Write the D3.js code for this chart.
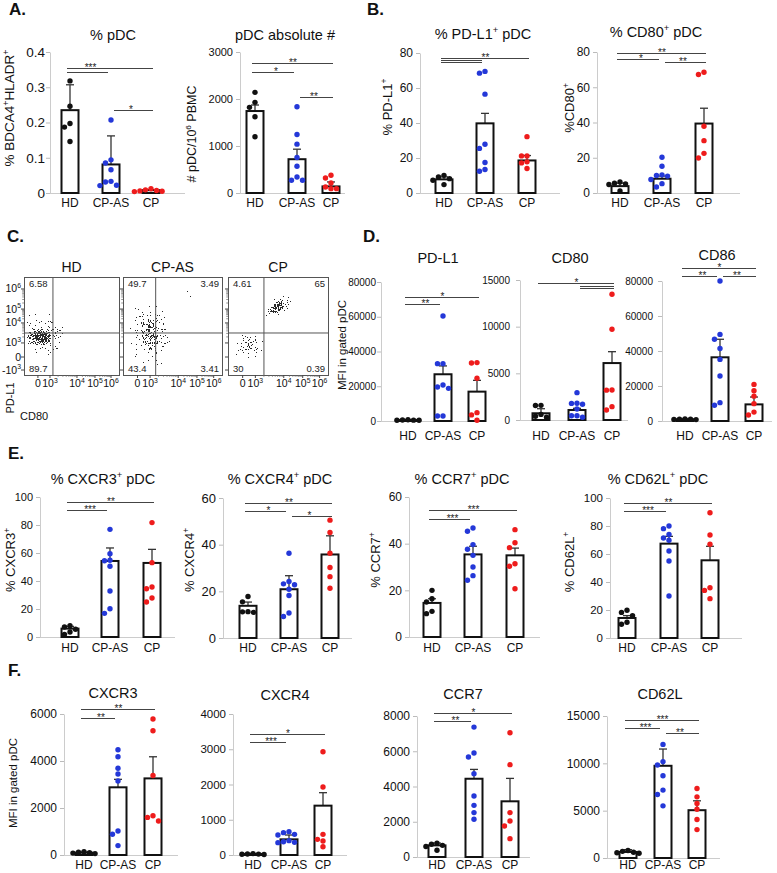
<!DOCTYPE html>
<html><head><meta charset="utf-8">
<script src="https://cdn.jsdelivr.net/npm/d3@7"></script>
<style>body{margin:0;background:#fff}</style>
</head><body><div id="chart"></div>
<script>
// ---------------- DATA ----------------
const groups = ["HD", "CP-AS", "CP"];
const groupColors = ["#111111", "#2438d8", "#ee1c1c"];

// A. % pDC
const pctPdcPts = [[0.318,0.246,0.197,0.187,0.146],[0.207,0.094,0.085,0.066,0.033,0.031,0.022,0.021],[0.012,0.009,0.007,0.006,0.005,0.004]];
const pctPdcMean = [0.235,0.081,0.008];
const pctPdcErr = [0.307,0.162,0.009];
const pctPdcSig = [[0,2,0.355,"***",0,1],[0,1,0.343,""],[1,2,0.236,"*"]];
const pctPdcTicks = [0,0.1,0.2,0.3,0.4];

// A. pDC absolute #
const absPdcPts = [[2142,1929,1822,1623,1196],[1836,1245,1039,754,569,342,270,270],[377,320,213,128,93,93]];
const absPdcMean = [1744,719,140];
const absPdcErr = [1872,932,235];
const absPdcSig = [[0,2,2766,"**"],[0,1,2574,"*"],[1,2,2043,"**"]];
const absPdcTicks = [0,1000,2000,3000];

// B. % PD-L1+ pDC
const pdl1PctPts = [[10.1,9.2,8.2,7.3,4.8],[69.5,68.5,56.5,27.9,25.5,17.4,13.4,12.4],[32.2,21.2,21.2,17.8,17.2,14.0]];
const pdl1PctMean = [7.8,39.8,18.6];
const pdl1PctErr = [9.2,45.5,21.4];
const pdl1PctSig = [[0,2,77.1,"**"],[0,1,76.0,""],[0,1,74.6,""]];
// B. % CD80+ pDC
const cd80PctPts = [[6.2,5.6,5.2,4.8,1.1],[20.3,15.2,10.3,9.9,9.6,7.7,5.3,3.4],[68.5,67.2,37.9,29.7,22.5,19.9]];
const cd80PctMean = [3.9,8.1,39.4];
const cd80PctErr = [5.6,9.6,48.1];
const cd80PctSig = [[0,2,79.4,"**"],[0,1,76.0,"*"],[1,2,74.3,"**"]];
const pct80Ticks = [0,20,40,60,80];

// D. MFI PD-L1 / CD80 / CD86
const pdl1MfiPts = [[700,600,500,450,400],[60400,33000,33000,20700,19600,18800,2900,2900],[33400,33600,24600,4800,3500,400]];
const pdl1MfiMean = [550,26900,16900];
const pdl1MfiErr = [650,31700,23400];
const pdl1MfiSig = [[0,2,71530,"*"],[0,1,67330,"**"]];
const cd80MfiPts = [[1570,1550,600,400,300],[2930,1790,1780,1680,1180,460,450,300],[13470,9720,3210,3200,1430,1070]];
const cd80MfiMean = [720,1070,6100];
const cd80MfiErr = [1210,1250,7320];
const cd80MfiSig = [[0,2,14670,"*"],[1,2,14350,""],[1,2,14100,""]];
const cd86MfiPts = [[1200,1100,1000,900,800],[80000,49500,46700,41400,35200,25700,10500,9000],[20900,17300,14200,9900,5100,3400]];
const cd86MfiMean = [1000,36400,9500];
const cd86MfiErr = [1100,46700,13700];
const cd86MfiSig = [[0,2,87430,"*"],[0,1,82860,"**"],[1,2,82860,"**"]];
const mfi80kTicks = [0,20000,40000,60000,80000];
const mfi15kTicks = [0,5000,10000,15000];

// E. % positive
const cxcr3PctPts = [[8.1,7.1,5.5,3.6,1.9],[76.9,59.5,54.8,54.5,50.5,32.9,20.2,16.9],[81.7,53.1,35.7,34.5,27.9,25.0]];
const cxcr3PctMean = [6.0,54.3,52.9];
const cxcr3PctErr = [7.6,63.6,62.6];
const cxcr3PctSig = [[0,2,96.4,"**"],[0,1,90.7,"***"]];
const cxcr4PctPts = [[17.8,15.5,11.3,11.0,11.2],[36.3,24.2,23.2,22.8,20.9,18.2,10.7,9.2],[50.5,45.2,36.3,30.2,26.3,21.3]];
const cxcr4PctMean = [13.8,20.9,35.8];
const cxcr4PctErr = [15.4,26.7,43.8];
const cxcr4PctSig = [[0,2,57.9,"**"],[0,1,54.4,"*"],[1,2,52.3,"*"]];
const ccr7PctPts = [[20.0,16.4,15.0,11.0,10.0],[46.7,45.3,39.6,37.6,35.0,30.0,26.3,24.3],[46.0,40.4,38.3,31.4,30.3,20.7]];
const ccr7PctMean = [14.6,35.4,35.0];
const ccr7PctErr = [16.4,38.9,38.1];
const ccr7PctSig = [[0,2,54.4,"***"],[0,1,50.6,"***"]];
const cd62lPctPts = [[19.8,18.3,16.0,11.2,9.8],[80.0,78.1,74.0,71.4,69.8,62.1,55.0,30.0],[89.5,73.6,67.0,35.9,34.0,28.1]];
const cd62lPctMean = [14.3,67.4,55.5];
const cd62lPctErr = [16.0,72.6,65.5];
const cd62lPctSig = [[0,2,96.4,"**"],[0,1,90.7,"***"]];
const pct100Ticks = [0,20,40,60,80,100];
const pct60Ticks = [0,20,40,60];

// F. MFI chemokine receptors
const cxcr3MfiPts = [[140,120,100,80,60],[4480,4180,3690,3450,3150,1020,880,400],[5790,5290,3380,1670,1600,1450]];
const cxcr3MfiMean = [100,2880,3260];
const cxcr3MfiErr = [120,3220,4180];
const cxcr3MfiSig = [[0,2,6213,"**"],[0,1,5830,"**"]];
const cxcr4MfiPts = [[40,30,25,20,15],[662,634,586,567,407,378,359,350],[2931,1929,586,444,397,236]];
const cxcr4MfiMean = [30,444,1400];
const cxcr4MfiErr = [35,567,1768];
const cxcr4MfiSig = [[0,2,3433,"*"],[0,1,3206,"***"]];
const ccr7MfiPts = [[790,720,660,600,380],[7370,5900,5670,4730,3460,2930,2520,2140],[7050,5240,2520,2040,1760,1040]];
const ccr7MfiMean = [660,4440,3160];
const ccr7MfiErr = [790,4970,4460];
const ccr7MfiSig = [[0,2,8170,"*"],[0,1,7716,"**"]];
const cd62lMfiPts = [[800,700,600,550,500],[12000,10170,9820,8690,7170,6710,5510],[7340,6460,5750,5150,4060,3000]];
const cd62lMfiMean = [640,9740,5050];
const cd62lMfiErr = [880,11510,6040];
const cd62lMfiSig = [[0,2,14577,"***"],[0,1,13732,"***"],[1,2,13204,"**"]];
const mfi6kTicks = [0,2000,4000,6000];
const mfi4kTicks = [0,1000,2000,3000,4000];
const mfi8kTicks = [0,2000,4000,6000,8000];

// C. flow plots
const flowPanels = ["HD","CP-AS","CP"];
const flowQuadTL = ["6.58","49.7","4.61"];
const flowQuadTR = ["","3.49","65"];
const flowQuadBL = ["89.7","43.4","30"];
const flowQuadBR = ["","3.41","0.39"];
const flowGateX = [312,338,368];
const flowGateY = [439,439,439];
const flowXTickLabels = ["0","10^{3}","10^{4}","10^{5}","10^{6}"];
const flowXTickChan = [150,280,571,765,938];
const flowYTickLabels = ["-10^{3}","0","10^{3}","10^{4}","10^{5}","10^{6}"];
const flowYTickChan = [52,188,335,544,689,899];
// event clouds (panel, centre x/y, radius x/y in channel units, tilt, peak density)
const flowCloudPanel = [0,0,1,1,1,2,2,2];
const flowCloudX = [172,226,279,290,590,500,600,205];
const flowCloudY = [397,418,450,440,790,705,780,313];
const flowCloudRX = [140,300,160,260,200,150,260,170];
const flowCloudRY = [90,260,250,360,90,85,170,140];
const flowCloudTilt = [0,0,-10,0,-30,-25,-30,0];
const flowCloudDensity = [0.95,0.52,0.72,0.5,0.5,0.85,0.55,0.56];

// ---------------- DRAWING ----------------
const FONT = "'Liberation Sans', Arial, Helvetica, sans-serif";
const svg = d3.select("#chart").append("svg").attr("width",777).attr("height",873)
  .style("font-family",FONT).style("display","block");
svg.append("rect").attr("width",777).attr("height",873).attr("fill","#fff");
const defs = svg.append("defs");

function rich(t, str, fs) {
  const parts = str.split(/(\^\{[^}]*\})/).filter(s => s.length);
  let up = false;
  parts.forEach(p => {
    const m = p.match(/^\^\{([^}]*)\}$/);
    if (m) {
      t.append("tspan").attr("dy", -fs*0.4).attr("font-size", fs*0.65).text(m[1]);
      up = true;
    } else {
      const s = t.append("tspan").text(p);
      if (up) { s.attr("dy", fs*0.4); up = false; }
    }
  });
}

function swarm(vals, yS, cx, r) {
  const items = vals.map(v => ({v, py: yS(v)})).sort((a,b) => a.py - b.py);
  const placed = [];
  const offs = [0,-1,1,-2,2,-3,3,-4,4];
  items.forEach(o => {
    for (const k of offs) {
      const px = cx + k*r*2.05;
      if (placed.every(p => Math.hypot(p.px-px, p.py-o.py) >= r*2.0)) { o.px = px; break; }
    }
    if (o.px === undefined) o.px = cx;
    placed.push(o);
  });
  return placed;
}

function barChart(c) {
  const g = svg.append("g");
  const y = d3.scaleLinear().domain([0, c.max]).range([c.y0, c.y1]);
  const x = d3.scaleOrdinal().domain(groups).range(c.cx);
  const ag = g.append("g").attr("transform", `translate(${c.ax},0)`)
    .call(d3.axisLeft(y).tickValues(c.ticks).tickFormat(d => String(d)).tickSize(4).tickSizeOuter(0).tickPadding(c.tp || 3));
  ag.attr("font-family", FONT).attr("font-size", c.tfs || 12);
  ag.select(".domain").attr("stroke", "#cccccc");
  ag.selectAll(".tick line").attr("stroke", "#bbbbbb");
  ag.selectAll(".tick text").attr("fill", "#111");
  g.append("line").attr("x1", c.ax).attr("x2", c.x1).attr("y1", c.y0 + 0.5).attr("y2", c.y0 + 0.5).attr("stroke", "#cccccc");

  groups.forEach(grp => g.append("text").attr("x", x(grp)).attr("y", c.xly).attr("text-anchor","middle")
    .attr("font-size", 12).attr("fill","#111").text(grp));
  const tt = g.append("text").attr("x", c.tx).attr("y", c.ty).attr("text-anchor","middle").attr("font-size",14.5).attr("fill","#111");
  rich(tt, c.title, 14.5);
  if (c.ylab) {
    const yl = g.append("text").attr("transform", `translate(${c.lx},${c.ly}) rotate(-90)`)
      .attr("text-anchor","middle").attr("font-size",c.lfs || 13).attr("fill","#111");
    rich(yl, c.ylab, c.lfs || 13);
  }
  const bw = 17;
  groups.forEach((grp, i) => {
    const cx = x(grp);
    const top = y(c.mean[i]);
    g.append("line").attr("x1",cx).attr("x2",cx).attr("y1",top).attr("y2",y(c.err[i])).attr("stroke","#333").attr("stroke-width",1.3);
    g.append("line").attr("x1",cx-4).attr("x2",cx+4).attr("y1",y(c.err[i])).attr("y2",y(c.err[i])).attr("stroke","#333").attr("stroke-width",1.3);
    g.append("rect").attr("x",cx-bw/2).attr("y",top).attr("width",bw).attr("height",Math.max(0.6, c.y0-top))
      .attr("fill","#fff").attr("stroke","#111").attr("stroke-width",2);
  });
  c.sig.forEach(s => {
    const [a,b,yv,lab,la,lb] = s;
    const x1 = x(groups[a]) + (a === 0 ? -3 : 3);
    const x2 = x(groups[b]) + (b === 1 ? -3 : 2);
    const yy = Math.round(y(yv)) + 0.5;
    g.append("line").attr("x1",x1).attr("x2",x2).attr("y1",yy).attr("y2",yy).attr("stroke","#444").attr("stroke-width",1);
    if (lab) {
      const ca = la === undefined ? a : la, cb = lb === undefined ? b : lb;
      g.append("text").attr("x",(x(groups[ca])+x(groups[cb]))/2).attr("y",yy+2.5).attr("text-anchor","middle")
        .attr("font-size",10).attr("fill","#222").text(lab);
    }
  });
  groups.forEach((grp, i) => {
    swarm(c.pts[i], y, x(grp), 2.7).forEach(p => {
      g.append("circle").attr("cx",p.px).attr("cy",p.py).attr("r",2.7).attr("fill",groupColors[i]);
    });
  });
}

const charts = [
  {title:"% pDC", ylab:"% BDCA4^{+}HLADR^{+}", lx:14, ly:108, lfs:13.5, pts:pctPdcPts, mean:pctPdcMean, err:pctPdcErr, sig:pctPdcSig, max:0.4, ticks:pctPdcTicks, tfs:13.5, tp:1, ax:50, x1:185, y0:193, y1:52, cx:[70,111,151], tx:113, ty:40, xly:207},
  {title:"pDC absolute #", ylab:"# pDC/10^{6} PBMC", lx:196, ly:134, lfs:12.5, pts:absPdcPts, mean:absPdcMean, err:absPdcErr, sig:absPdcSig, max:3000, ticks:absPdcTicks, tfs:11, ax:240, x1:345, y0:193, y1:52, cx:[255,297,331], tx:285, ty:40, xly:207},
  {title:"% PD-L1^{+} pDC", ylab:"% PD-L1^{+}", lx:392, ly:107, pts:pdl1PctPts, mean:pdl1PctMean, err:pdl1PctErr, sig:pdl1PctSig, max:80, ticks:pct80Ticks, tfs:12, ax:420, x1:560, y0:193, y1:53, cx:[444,485,527], tx:483, ty:39, xly:207},
  {title:"% CD80^{+} pDC", ylab:"%CD80^{+}", lx:574, ly:108, pts:cd80PctPts, mean:cd80PctMean, err:cd80PctErr, sig:cd80PctSig, max:80, ticks:pct80Ticks, tfs:12, ax:597, x1:740, y0:193, y1:52, cx:[620,662,704], tx:656, ty:37, xly:207},
  {title:"PD-L1", ylab:"MFI in gated pDC", lx:346, ly:345, lfs:11.5, pts:pdl1MfiPts, mean:pdl1MfiMean, err:pdl1MfiErr, sig:pdl1MfiSig, max:80000, ticks:mfi80kTicks, tfs:10, tp:1, ax:381, x1:480, y0:421, y1:282, cx:[408,443,477], tx:438, ty:263, xly:440},
  {title:"CD80", pts:cd80MfiPts, mean:cd80MfiMean, err:cd80MfiErr, sig:cd80MfiSig, max:15000, ticks:mfi15kTicks, tfs:10, tp:6, ax:520, x1:628, y0:420, y1:280, cx:[541,577,612], tx:570, ty:263, xly:440},
  {title:"CD86", pts:cd86MfiPts, mean:cd86MfiMean, err:cd86MfiErr, sig:cd86MfiSig, max:80000, ticks:mfi80kTicks, tfs:10, tp:5, ax:662, x1:772, y0:421, y1:281, cx:[685,720,754], tx:717, ty:260, xly:440},
  {title:"% CXCR3^{+} pDC", ylab:"% CXCR3^{+}", lx:15, ly:560, pts:cxcr3PctPts, mean:cxcr3PctMean, err:cxcr3PctErr, sig:cxcr3PctSig, max:100, ticks:pct100Ticks, tfs:11, ax:40, x1:175, y0:637, y1:497, cx:[70,110,152], tx:103, ty:484, xly:652},
  {title:"% CXCR4^{+} pDC", ylab:"% CXCR4^{+}", lx:194, ly:560, pts:cxcr4PctPts, mean:cxcr4PctMean, err:cxcr4PctErr, sig:cxcr4PctSig, max:60, ticks:pct60Ticks, tfs:13, ax:223, x1:352, y0:638, y1:498, cx:[248,289,330], tx:280, ty:484, xly:652},
  {title:"% CCR7^{+} pDC", ylab:"% CCR7^{+}", lx:380, ly:560, pts:ccr7PctPts, mean:ccr7PctMean, err:ccr7PctErr, sig:ccr7PctSig, max:60, ticks:pct60Ticks, tfs:12, ax:409, x1:540, y0:637, y1:497, cx:[432,473,515], tx:462, ty:484, xly:652},
  {title:"% CD62L^{+} pDC", ylab:"% CD62L^{+}", lx:574, ly:562, pts:cd62lPctPts, mean:cd62lPctMean, err:cd62lPctErr, sig:cd62lPctSig, max:100, ticks:pct100Ticks, tfs:11.5, ax:610, x1:742, y0:638, y1:498, cx:[627,669,710], tx:658, ty:484, xly:652},
  {title:"CXCR3", ylab:"MFI in gated pDC", lx:17, ly:783, lfs:11.5, pts:cxcr3MfiPts, mean:cxcr3MfiMean, err:cxcr3MfiErr, sig:cxcr3MfiSig, max:6000, ticks:mfi6kTicks, tfs:12, ax:64, x1:178, y0:855, y1:714, cx:[84,118,153], tx:113, ty:698, xly:869},
  {title:"CXCR4", pts:cxcr4MfiPts, mean:cxcr4MfiMean, err:cxcr4MfiErr, sig:cxcr4MfiSig, max:4000, ticks:mfi4kTicks, tfs:11.5, ax:233, x1:347, y0:855, y1:714, cx:[253,289,323], tx:285, ty:700, xly:869},
  {title:"CCR7", pts:ccr7MfiPts, mean:ccr7MfiMean, err:ccr7MfiErr, sig:ccr7MfiSig, max:8000, ticks:mfi8kTicks, tfs:12, ax:417, x1:530, y0:857, y1:716, cx:[437,474,510], tx:463, ty:699, xly:869},
  {title:"CD62L", pts:cd62lMfiPts, mean:cd62lMfiMean, err:cd62lMfiErr, sig:cd62lMfiSig, max:15000, ticks:mfi15kTicks, tfs:12, ax:607, x1:720, y0:858, y1:716, cx:[628,663,697], tx:660, ty:699, xly:869}
];
charts.forEach(barChart);

// panel letters
[["A.",9,15],["B.",367,15],["C.",7,242],["D.",363,242],["E.",8,459],["F.",8,676]].forEach(([t,x,y]) =>
  svg.append("text").attr("x",x).attr("y",y).attr("font-size",17).attr("font-weight","bold").attr("fill","#111").text(t));

// ---- C. flow cytometry dot plots ----
const grad = defs.append("radialGradient").attr("id","cloudGrad");
grad.append("stop").attr("offset","0%").attr("stop-color","#fff").attr("stop-opacity",1);
grad.append("stop").attr("offset","50%").attr("stop-color","#fff").attr("stop-opacity",0.85);
grad.append("stop").attr("offset","100%").attr("stop-color","#fff").attr("stop-opacity",0.5);
// speckle filter: noise + density, thresholded into dots (texture only)
const thresh = d3.range(20).map(i => i >= 15 ? 1 : 0).join(" ");
function speckleFilter(id, strength, seed) {
  const f = defs.append("filter").attr("id", id).attr("x","-10%").attr("y","-10%").attr("width","120%").attr("height","120%")
    .attr("color-interpolation-filters","sRGB");
  f.append("feTurbulence").attr("type","fractalNoise").attr("baseFrequency",0.85).attr("numOctaves",1).attr("seed",seed).attr("result","noise");
  f.append("feComposite").attr("in","noise").attr("in2","SourceAlpha").attr("operator","arithmetic")
    .attr("k1",0).attr("k2",2).attr("k3",strength).attr("k4",-1.0).attr("result","sum");
  const ct = f.append("feComponentTransfer").attr("in","sum").attr("result","th");
  ct.append("feFuncA").attr("type","discrete").attr("tableValues",thresh);
  f.append("feColorMatrix").attr("in","th").attr("type","matrix")
    .attr("values","0 0 0 0 0.16  0 0 0 0 0.16  0 0 0 0 0.16  0 0 0 1 0");
}

const flowBoxX = [24,123,228], flowBoxW = [95,99,100], flowBoxY = 277, flowBoxH = 98;
flowPanels.forEach((name, p) => {
  const bx = flowBoxX[p], bw = flowBoxW[p], by = flowBoxY, bh = flowBoxH;
  const fx = d3.scaleLinear().domain([0,1024]).range([bx, bx+bw]);
  const fy = d3.scaleLinear().domain([0,1024]).range([by+bh, by]);
  const g = svg.append("g");
  defs.append("clipPath").attr("id","fclip"+p).append("rect").attr("x",bx).attr("y",by).attr("width",bw).attr("height",bh);
  const cg = g.append("g").attr("clip-path",`url(#fclip${p})`);
  flowCloudPanel.forEach((pp, k) => {
    if (pp !== p) return;
    speckleFilter("spk"+k, flowCloudDensity[k], 3 + k*7);
    const cx = fx(flowCloudX[k]), cy = fy(flowCloudY[k]);
    cg.append("ellipse").attr("cx",cx).attr("cy",cy).attr("rx",fx(flowCloudRX[k])-fx(0)).attr("ry",fy(0)-fy(flowCloudRY[k]))
      .attr("transform",`rotate(${flowCloudTilt[k]},${cx},${cy})`).attr("fill","url(#cloudGrad)")
      .attr("filter",`url(#spk${k})`);
  });
  g.append("rect").attr("x",bx+0.5).attr("y",by+0.5).attr("width",bw).attr("height",bh).attr("fill","none").attr("stroke","#555").attr("stroke-width",1);
  g.append("line").attr("x1",fx(flowGateX[p])).attr("x2",fx(flowGateX[p])).attr("y1",by).attr("y2",by+bh).attr("stroke","#555");
  g.append("line").attr("x1",bx).attr("x2",bx+bw).attr("y1",fy(flowGateY[p])).attr("y2",fy(flowGateY[p])).attr("stroke","#555");
  // major ticks
  flowYTickChan.forEach(ch => g.append("line").attr("x1",bx-3).attr("x2",bx).attr("y1",fy(ch)).attr("y2",fy(ch)).attr("stroke","#444"));
  flowXTickChan.forEach(ch => g.append("line").attr("x1",fx(ch)).attr("x2",fx(ch)).attr("y1",by+bh).attr("y2",by+bh+3).attr("stroke","#444"));
  // minor (log) ticks
  [[1,2],[2,3],[3,4]].forEach(([i,j]) => {
    for (let k = 2; k < 10; k++) {
      const chx = flowXTickChan[i] + (flowXTickChan[j]-flowXTickChan[i])*Math.log10(k);
      g.append("line").attr("x1",fx(chx)).attr("x2",fx(chx)).attr("y1",by+bh).attr("y2",by+bh+1.8).attr("stroke","#666").attr("stroke-width",0.7);
    }
  });
  [[2,3],[3,4],[4,5]].forEach(([i,j]) => {
    for (let k = 2; k < 10; k++) {
      const chy = flowYTickChan[i] + (flowYTickChan[j]-flowYTickChan[i])*Math.log10(k);
      g.append("line").attr("x1",bx-1.8).attr("x2",bx).attr("y1",fy(chy)).attr("y2",fy(chy)).attr("stroke","#666").attr("stroke-width",0.7);
    }
  });
  // tick labels
  flowXTickLabels.forEach((lab, i) => {
    const t = g.append("text").attr("x",fx(flowXTickChan[i])).attr("y",by+bh+12).attr("text-anchor","middle").attr("font-size",10.5).attr("fill","#111");
    rich(t, lab, 10.5);
  });
  if (p === 0) {
    flowYTickLabels.forEach((lab, i) => {
      const t = g.append("text").attr("x",bx-3).attr("y",fy(flowYTickChan[i])+3.5).attr("text-anchor","end").attr("font-size",10.5).attr("fill","#111");
      rich(t, lab, 10.5);
    });
  }
  // quadrant values
  const qf = 9.5;
  g.append("text").attr("x",bx+5).attr("y",by+10).attr("font-size",qf).attr("fill","#222").text(flowQuadTL[p]);
  g.append("text").attr("x",bx+bw-3).attr("y",by+10).attr("text-anchor","end").attr("font-size",qf).attr("fill","#222").text(flowQuadTR[p]);
  g.append("text").attr("x",bx+5).attr("y",by+bh-3).attr("font-size",qf).attr("fill","#222").text(flowQuadBL[p]);
  g.append("text").attr("x",bx+bw-3).attr("y",by+bh-3).attr("text-anchor","end").attr("font-size",qf).attr("fill","#222").text(flowQuadBR[p]);
  g.append("text").attr("x",bx+bw/2).attr("y",272).attr("text-anchor","middle").attr("font-size",14).attr("fill","#111").text(name);
});
svg.append("text").attr("transform","translate(14,398) rotate(-90)").attr("text-anchor","middle").attr("font-size",11).attr("fill","#111").text("PD-L1");
svg.append("text").attr("x",20).attr("y",420).attr("font-size",11).attr("fill","#111").text("CD80");
</script>
</body></html>
